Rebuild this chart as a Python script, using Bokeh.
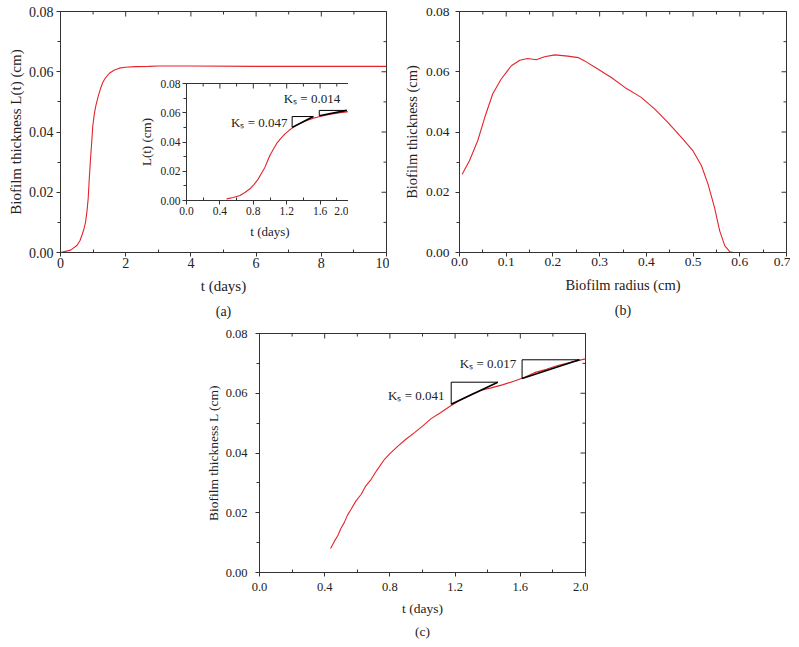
import math
from bokeh.plotting import figure
from bokeh.models import LinearAxis, FixedTicker, NumeralTickFormatter, Range1d, GridBox, Label, Span
from bokeh.embed import file_html
from bokeh.resources import INLINE

# ---------------- data ----------------
# (a) biofilm thickness vs time (0-10 days)
a_t = [0.0, 0.31, 0.51, 0.60, 0.66, 0.72, 0.77, 0.81, 0.85, 0.88, 0.92, 0.96, 0.99, 1.04, 1.09, 1.16, 1.23,
       1.30, 1.38, 1.50, 1.64, 1.80, 1.99, 2.3, 2.7, 3.0, 4.0, 6.0, 8.0, 10.0]
a_L = [0.0, 0.0008, 0.0024, 0.0040, 0.0058, 0.0078, 0.0102, 0.0135, 0.018, 0.024, 0.031, 0.037, 0.042, 0.0462,
       0.049, 0.052, 0.0545, 0.0565, 0.058, 0.0595, 0.0605, 0.0612, 0.0615, 0.0617, 0.0618, 0.0619, 0.0619,
       0.0618, 0.0618, 0.0618]
a_xticks = [0, 2, 4, 6, 8, 10]
a_xminor = [1, 3, 5, 7, 9]

# inset of (a): 0-2 days
in_t = [0.48, 0.56, 0.64, 0.70, 0.76, 0.81, 0.86, 0.90, 0.94, 0.97, 1.0, 1.04, 1.08, 1.13, 1.18, 1.23,
        1.28, 1.36, 1.44, 1.54, 1.64, 1.74, 1.84, 1.92, 2.0]
in_L = [0.0011, 0.002, 0.0034, 0.0055, 0.008, 0.011, 0.0148, 0.0188, 0.0228, 0.027, 0.031, 0.035, 0.039,
        0.0425, 0.0456, 0.048, 0.050, 0.0527, 0.0547, 0.0566, 0.058, 0.0592, 0.060, 0.0606, 0.061]
in_ks_t0 = [1.265, 1.59]
in_ks_t1 = [1.52, 1.92]
in_ks_L0 = [0.050, 0.058]
in_ks_L1 = [0.0574, 0.0616]
in_ks_text = ["Kₛ = 0.047", "Kₛ = 0.014"]
in_ks_lx = [1.21, 1.84]
in_ks_ly = [0.0535, 0.0695]

t_ticks_2 = [0.0, 0.4, 0.8, 1.2, 1.6, 2.0]
t_minor_2 = [0.2, 0.6, 1.0, 1.4, 1.8]

L_ticks = [0.0, 0.02, 0.04, 0.06, 0.08]
L_minor = [0.01, 0.03, 0.05, 0.07]

# (b) biofilm thickness vs radius
b_r = [0.0057, 0.021, 0.039, 0.054, 0.071, 0.089, 0.111, 0.129, 0.146, 0.164, 0.182, 0.204, 0.232, 0.254,
       0.268, 0.296, 0.325, 0.354, 0.389, 0.418, 0.446, 0.475, 0.50, 0.518, 0.532, 0.546, 0.557, 0.568,
       0.579, 0.586, 0.625]
b_L = [0.026, 0.0304, 0.0371, 0.0448, 0.0526, 0.0575, 0.062, 0.0638, 0.0644, 0.064, 0.065, 0.0656, 0.0652,
       0.0647, 0.0636, 0.0609, 0.0581, 0.0548, 0.0515, 0.0476, 0.0432, 0.0382, 0.0337, 0.0288, 0.0227,
       0.0149, 0.0072, 0.0022, 0.0002, 0.0, 0.0]
b_xticks = [0.0, 0.1, 0.2, 0.3, 0.4, 0.5, 0.6, 0.7]
b_xminor = [0.05, 0.15, 0.25, 0.35, 0.45, 0.55, 0.65]

# (c) biofilm thickness vs time (experimental)
c_t = [0.436, 0.46, 0.48, 0.50, 0.52, 0.54, 0.562, 0.59, 0.624, 0.65, 0.685, 0.72, 0.767, 0.80, 0.849, 0.90,
       0.951, 1.0, 1.053, 1.11, 1.176, 1.24, 1.299, 1.36, 1.421, 1.49, 1.564, 1.62, 1.687, 1.76, 1.83, 1.91, 2.0]
c_L = [0.008, 0.0105, 0.0123, 0.0148, 0.0167, 0.0192, 0.0212, 0.0238, 0.0262, 0.0288, 0.0312, 0.0342, 0.0379,
       0.0398, 0.0423, 0.0447, 0.0468, 0.049, 0.0515, 0.0535, 0.0559, 0.058, 0.0596, 0.061, 0.0618, 0.0628,
       0.0641, 0.0652, 0.0669, 0.068, 0.0693, 0.0704, 0.0715]
c_ks_t0 = [1.176, 1.611]
c_ks_t1 = [1.462, 1.963]
c_ks_L0 = [0.0563, 0.0649]
c_ks_L1 = [0.0637, 0.0712]
c_ks_text = ["Kₛ = 0.041", "Kₛ = 0.017"]
c_ks_lx = [1.135, 1.575]
c_ks_ly = [0.0593, 0.0699]

# ---------------- style ----------------
FONT = "Liberation Serif"
RED = "#e3242b"
AX = "#333333"
TXT = "#222222"


def make_fig(xr, yr, fw, fh, bl, bt, br, bb, ml, mt, title=None, title_standoff=8, title_size="14px"):
    kw = {}
    if title is not None:
        kw = dict(title=title, title_location="below")
    p = figure(frame_width=fw, frame_height=fh, x_range=Range1d(*xr), y_range=Range1d(*yr),
               output_backend="svg", toolbar_location=None,
               min_border_left=bl, min_border_top=bt, min_border_right=br, min_border_bottom=bb,
               margin=(mt, 0, 0, ml), x_axis_type=None, y_axis_type=None, **kw)
    p.grid.visible = False
    p.outline_line_color = AX
    p.outline_line_width = 1
    p.background_fill_color = "white"
    p.border_fill_color = None
    if title is not None:
        p.title.align = "center"
        p.title.text_font = FONT
        p.title.text_font_size = title_size
        p.title.text_font_style = "normal"
        p.title.text_color = TXT
        p.title.standoff = title_standoff
    return p


def add_axes(p, xr, yr, xt, xm, xfmt, yt, ym, yfmt, xlabel, ylabel, tick_fs, lab_fs,
             x_std=(3, 4), y_std=(3, 4)):
    for side in ["below", "left"]:
        horiz = side == "below"
        ticker = FixedTicker(ticks=xt, minor_ticks=xm) if horiz else FixedTicker(ticks=yt, minor_ticks=ym)
        fmt = NumeralTickFormatter(format=xfmt if horiz else yfmt)
        ax = LinearAxis(ticker=ticker, formatter=fmt)
        ax.axis_line_color = AX
        ax.axis_line_width = 1
        ax.major_tick_line_color = AX
        ax.minor_tick_line_color = AX
        ax.major_label_text_font = FONT
        ax.major_label_text_font_size = tick_fs
        ax.major_label_text_color = TXT
        ax.axis_label_text_font = FONT
        ax.axis_label_text_font_size = lab_fs
        ax.axis_label_text_font_style = "normal"
        ax.axis_label_text_color = TXT
        if horiz:
            ax.major_tick_out, ax.major_tick_in = 4, 0
            ax.minor_tick_out, ax.minor_tick_in = 0, 3
            ax.major_label_standoff = x_std[0]
            ax.axis_label = xlabel
            ax.axis_label_standoff = x_std[1]
        else:
            ax.major_tick_out, ax.major_tick_in = 4, 0
            ax.minor_tick_out, ax.minor_tick_in = 3, 0
            ax.major_label_standoff = y_std[0]
            ax.axis_label = ylabel
            ax.axis_label_standoff = y_std[1]
        p.add_layout(ax, side)
    # right and top frame edges with mirrored inward ticks (clipped to the frame)
    p.add_layout(Span(location=xr[1], dimension="height", line_color=AX, line_width=1))
    p.add_layout(Span(location=yr[1], dimension="width", line_color=AX, line_width=1))
    p.scatter(x=[xr[1]] * len(yt), y=yt, marker="dash", size=10, line_color=AX, line_width=1)
    p.scatter(x=[xr[1]] * len(ym), y=ym, marker="dash", size=6, line_color=AX, line_width=1)
    p.scatter(x=xt, y=[yr[1]] * len(xt), marker="dash", angle=math.pi / 2, size=10, line_color=AX, line_width=1)
    p.scatter(x=xm, y=[yr[1]] * len(xm), marker="dash", angle=math.pi / 2, size=6, line_color=AX, line_width=1)


L_range = (0, 0.08)

# (a)
a_range = (0, 10)
pa = make_fig(a_range, L_range, 326, 241, 52, 5, 6, 70, 1, 5, title="(a)", title_standoff=10)
add_axes(pa, a_range, L_range, a_xticks, a_xminor, "0", L_ticks, L_minor, "0.00", "t (days)",
         "Biofilm thickness L(t) (cm)", "14px", "15px", x_std=(1, 7), y_std=(3, 2))
pa.line(a_t, a_L, line_color=RED, line_width=1.1)

# inset
in_range = (0, 2)
pin = make_fig(in_range, L_range, 167, 117, 48, 4, 4, 42, 127, 77)
add_axes(pin, in_range, L_range, t_ticks_2, t_minor_2, "0.0", L_ticks, L_minor, "0.00", "t (days)", "L(t) (cm)",
         "11.5px", "13px", x_std=(2, 6), y_std=(2, 3))
pin.line(in_t, in_L, line_color=RED, line_width=1.1)
pin.segment(x0=in_ks_t0, y0=in_ks_L0, x1=in_ks_t0, y1=in_ks_L1, line_color="black", line_width=1)
pin.segment(x0=in_ks_t0, y0=in_ks_L1, x1=in_ks_t1, y1=in_ks_L1, line_color="black", line_width=1)
pin.segment(x0=in_ks_t0, y0=in_ks_L0, x1=in_ks_t1, y1=in_ks_L1, line_color="black", line_width=1.6)
for x, y, s in zip(in_ks_lx, in_ks_ly, in_ks_text):
    pin.add_layout(Label(x=x, y=y, text=s, text_align="right", text_baseline="middle",
                         text_font=FONT, text_font_size="13px", text_color=TXT))

# (b)
b_range = (0, 0.7)
pb = make_fig(b_range, L_range, 327, 241, 58, 5, 4, 70, 400, 5, title="(b)", title_standoff=10)
add_axes(pb, b_range, L_range, b_xticks, b_xminor, "0.0", L_ticks, L_minor, "0.00", "Biofilm radius (cm)",
         "Biofilm thickness (cm)", "13.5px", "14.5px", x_std=(1, 8), y_std=(6, 3))
pb.line(b_r, b_L, line_color=RED, line_width=1.1)

# (c)
c_range = (0, 2)
pc = make_fig(c_range, L_range, 326, 239, 58, 6, 4, 60, 200, 327, title="(c)", title_standoff=7,
              title_size="13.5px")
add_axes(pc, c_range, L_range, t_ticks_2, t_minor_2, "0.0", L_ticks, L_minor, "0.00", "t (days)",
         "Biofilm thickness L (cm)", "12.5px", "13.5px", x_std=(6, 7), y_std=(8, 2))
pc.line(c_t, c_L, line_color=RED, line_width=1.1)
pc.segment(x0=c_ks_t0, y0=c_ks_L0, x1=c_ks_t0, y1=c_ks_L1, line_color="black", line_width=1)
pc.segment(x0=c_ks_t0, y0=c_ks_L1, x1=c_ks_t1, y1=c_ks_L1, line_color="black", line_width=1)
pc.segment(x0=c_ks_t0, y0=c_ks_L0, x1=c_ks_t1, y1=c_ks_L1, line_color="black", line_width=1.6)
for x, y, s in zip(c_ks_lx, c_ks_ly, c_ks_text):
    pc.add_layout(Label(x=x, y=y, text=s, text_align="right", text_baseline="middle",
                        text_font=FONT, text_font_size="13px", text_color=TXT))

layout = GridBox(children=[(pa, 0, 0), (pb, 0, 0), (pc, 0, 0), (pin, 0, 0)])

open("out.html", "w").write(file_html(layout, INLINE))
